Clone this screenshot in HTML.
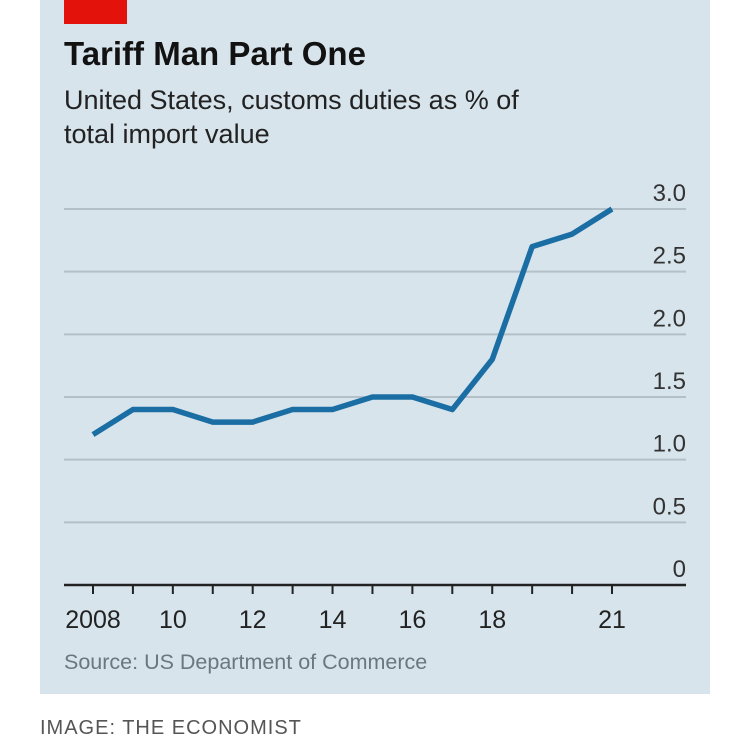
<!DOCTYPE html>
<html><head><meta charset="utf-8"><style>
body{margin:0;width:750px;height:741px;background:#fff;font-family:"Liberation Sans",sans-serif;overflow:hidden}
</style></head><body>
<svg width="750" height="741">
<rect x="40" y="0" width="670" height="694" fill="#d7e4ec"/>
<rect x="64" y="0" width="63" height="24" fill="#e3120b"/>
<text x="64" y="65" font-size="33" font-weight="bold" fill="#121212">Tariff Man Part One</text>
<text x="64" y="109" font-size="27" fill="#222">United States, customs duties as % of</text>
<text x="64" y="143" font-size="27" fill="#222">total import value</text>
<g id="grid"></g><g id="ticks"></g>
<path id="line" fill="none" stroke="#1a6ea3" stroke-width="5.5" stroke-linejoin="round"/>
<text x="64" y="669" font-size="21.5" fill="#6b7780">Source: US Department of Commerce</text>
<text x="40" y="734" font-size="20" fill="#555" letter-spacing="1">IMAGE: THE ECONOMIST</text>
</svg>
<script>
const years=[2008,2009,2010,2011,2012,2013,2014,2015,2016,2017,2018,2019,2020,2021];
const values=[1.2,1.4,1.4,1.3,1.3,1.4,1.4,1.5,1.5,1.4,1.8,2.7,2.8,3.0];
const yTicks=[0,0.5,1.0,1.5,2.0,2.5,3.0];
const yTickLabels=["0","0.5","1.0","1.5","2.0","2.5","3.0"];
const xLabelYears=[2008,2010,2012,2014,2016,2018,2021];
const xLabels=["2008","10","12","14","16","18","21"];
const NS="http://www.w3.org/2000/svg";
const x=v=>93+(v-2008)*(612-93)/13;
const y=v=>585-v*(585-209)/3;
const g=document.getElementById('grid'),t=document.getElementById('ticks');
yTicks.forEach((v,i)=>{
 const l=document.createElementNS(NS,'line');
 l.setAttribute('x1',64);l.setAttribute('x2',686);l.setAttribute('y1',y(v));l.setAttribute('y2',y(v));
 l.setAttribute('stroke',v===0?'#222':'#b3c0c8');l.setAttribute('stroke-width',v===0?2.5:2);
 
 
 g.appendChild(l);
 const tx=document.createElementNS(NS,'text');
 tx.setAttribute('x',686);tx.setAttribute('y',y(v)-8);tx.setAttribute('text-anchor','end');
 tx.setAttribute('font-size',24);tx.setAttribute('fill','#333');tx.textContent=yTickLabels[i];
 
 
 g.appendChild(tx);
});
years.forEach(yr=>{
 const l=document.createElementNS(NS,'line');
 l.setAttribute('x1',x(yr));l.setAttribute('x2',x(yr));l.setAttribute('y1',585);l.setAttribute('y2',594);
 l.setAttribute('stroke','#222');l.setAttribute('stroke-width',2);
 
 
 t.appendChild(l);
});
xLabelYears.forEach((yr,i)=>{
 const tx=document.createElementNS(NS,'text');
 tx.setAttribute('x',x(yr));tx.setAttribute('y',628);tx.setAttribute('text-anchor','middle');
 tx.setAttribute('font-size',25);tx.setAttribute('fill','#222');tx.textContent=xLabels[i];
 
 
 t.appendChild(tx);
});
document.getElementById('line').setAttribute('d',years.map((yr,i)=>(i?'L':'M')+x(yr)+','+y(values[i])).join(''));
</script>
</body></html>
